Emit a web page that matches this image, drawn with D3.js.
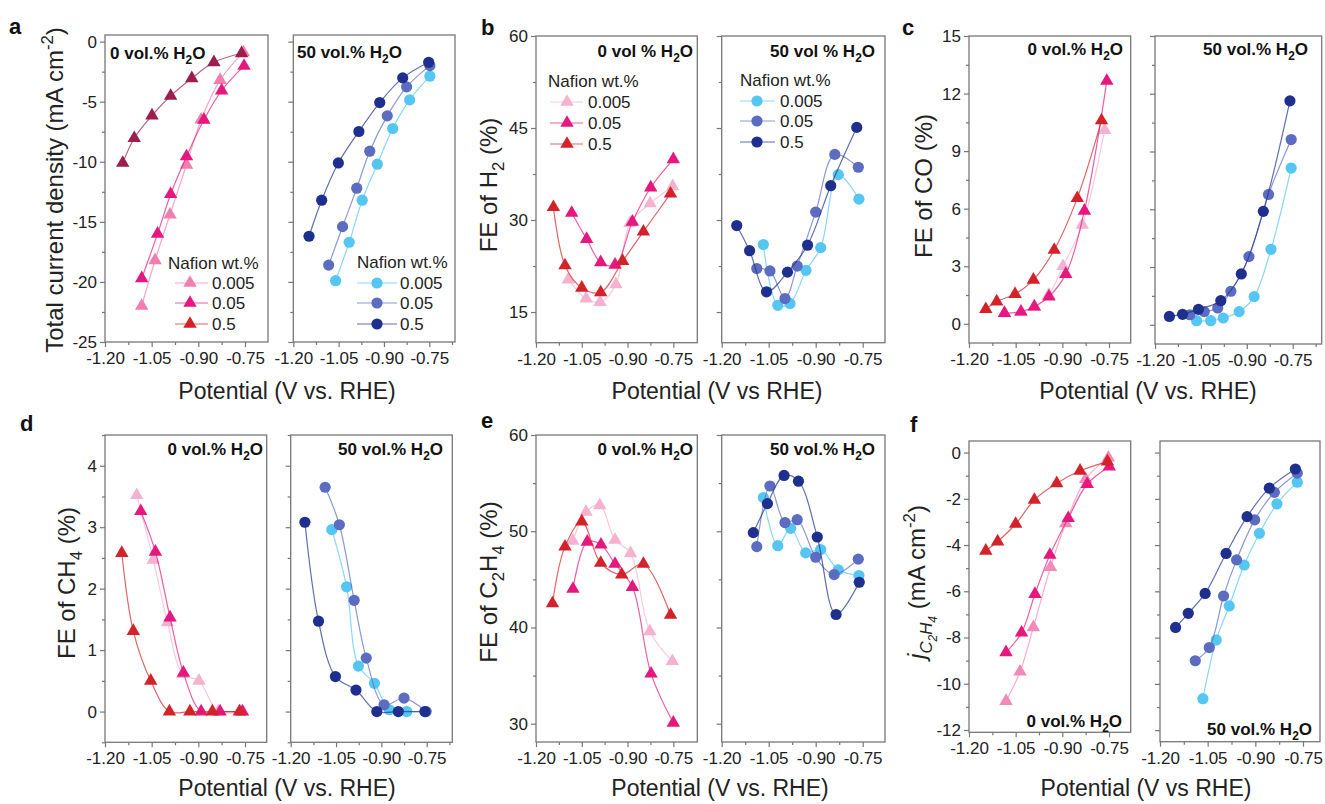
<!DOCTYPE html>
<html>
<head>
<meta charset="utf-8">
<script src="https://cdn.jsdelivr.net/npm/d3@7"></script>
<style>
  body { margin: 0; background: #fff; }
  svg { font-family: "Liberation Sans", Arial, sans-serif; }
</style>
</head>
<body>
<svg id="fig" width="1325" height="804"></svg>
<script>
// =============================
// DATA
// =============================
const nafion = ["0.005", "0.05", "0.5"];
const potTicks = [-1.2, -1.05, -0.9, -0.75];
const potMinor = [-1.125, -0.975, -0.825, -0.675];

// a - total current density (mA cm-2)
const aDryV = [[-1.082, -1.039, -0.991, -0.938, -0.891, -0.830, -0.755],
               [-1.082, -1.031, -0.989, -0.938, -0.882, -0.825, -0.753],
               [-1.143, -1.106, -1.049, -0.989, -0.921, -0.850, -0.761]];
const aDryJ = [[-22.0, -18.2, -14.4, -10.25, -6.5, -3.2, -0.9],
               [-19.7, -16.0, -12.7, -9.56, -6.51, -4.07, -2.02],
               [-10.1, -8.04, -6.15, -4.52, -3.05, -1.72, -0.97]];
const aWetV = [[-1.060, -1.015, -0.972, -0.922, -0.871, -0.815, -0.748],
               [-1.083, -1.037, -0.990, -0.947, -0.889, -0.825, -0.748],
               [-1.148, -1.106, -1.051, -0.983, -0.914, -0.838, -0.752]];
const aWetJ = [[-19.9, -16.7, -13.2, -10.2, -7.23, -4.85, -2.88],
               [-18.6, -15.4, -12.2, -9.12, -6.18, -3.77, -2.0],
               [-16.2, -13.2, -10.1, -7.48, -5.07, -3.02, -1.72]];

// b - FE of H2 (%)
const bDryV = [[-1.094, -1.036, -0.990, -0.938, -0.892, -0.826, -0.752],
               [-1.083, -1.034, -0.988, -0.941, -0.884, -0.824, -0.750],
               [-1.143, -1.105, -1.050, -0.988, -0.916, -0.848, -0.759]];
const bDryFE = [[20.3, 17.2, 16.6, 19.5, 29.5, 32.7, 35.5],
                [31.15, 26.9, 23.1, 22.7, 29.7, 35.3, 39.9],
                [32.1, 22.6, 18.95, 18.2, 23.3, 28.1, 34.3]];
const bWetV = [[-1.067, -1.021, -0.982, -0.931, -0.884, -0.828, -0.762],
               [-1.088, -1.046, -0.998, -0.959, -0.900, -0.839, -0.764],
               [-1.152, -1.111, -1.057, -0.990, -0.926, -0.852, -0.769]];
const bWetFE = [[26.0, 16.1, 16.4, 21.8, 25.5, 37.4, 33.4],
                [22.1, 21.7, 17.2, 22.5, 31.3, 40.7, 38.6],
                [29.1, 25.0, 18.3, 21.5, 25.9, 35.6, 45.1]];

// c - FE of CO (%)
const cDryV = [[-1.086, -1.033, -0.990, -0.944, -0.898, -0.836, -0.764],
               [-1.086, -1.033, -0.990, -0.943, -0.889, -0.829, -0.757],
               [-1.146, -1.111, -1.052, -0.993, -0.926, -0.852, -0.774]];
const cDryFE = [[0.55, 0.6, 0.87, 1.5, 3.0, 5.15, 10.1],
                [0.56, 0.63, 0.9, 1.42, 2.59, 5.89, 12.66],
                [0.76, 1.16, 1.55, 2.29, 3.85, 6.55, 10.6]];
const cWetV = [[-1.064, -1.018, -0.977, -0.925, -0.876, -0.821, -0.755],
               [-1.086, -1.039, -0.995, -0.952, -0.893, -0.829, -0.755],
               [-1.153, -1.110, -1.058, -0.985, -0.918, -0.846, -0.759]];
const cWetFE = [[0.21, 0.21, 0.35, 0.68, 1.46, 3.92, 8.14],
                [0.52, 0.68, 0.87, 1.74, 3.54, 6.77, 9.62],
                [0.43, 0.54, 0.8, 1.25, 2.64, 5.89, 11.63]];

// d - FE of CH4 (%)
const dDryV = [[-1.098, -1.045, -0.999, -0.950, -0.898, -0.836, -0.763],
               [-1.085, -1.038, -0.991, -0.948, -0.891, -0.830, -0.758],
               [-1.146, -1.109, -1.053, -0.993, -0.927, -0.855, -0.768]];
const dDryFE = [[3.52, 2.47, 1.45, 0.61, 0.5, 0, 0],
                [3.26, 2.6, 1.53, 0.63, 0, 0, 0],
                [2.58, 1.31, 0.5, 0, 0, 0, 0]];
const dWetV = [[-1.064, -1.015, -0.976, -0.923, -0.874, -0.816, -0.753],
               [-1.086, -1.039, -0.990, -0.950, -0.891, -0.825, -0.752],
               [-1.153, -1.108, -1.052, -0.984, -0.915, -0.844, -0.756]];
const dWetFE = [[2.96, 2.03, 0.74, 0.46, 0.03, 0, 0],
                [3.65, 3.04, 1.81, 0.87, 0.11, 0.22, 0],
                [3.08, 1.47, 0.57, 0.35, 0, 0, 0]];

// e - FE of C2H4 (%)
const eDryV = [[-1.079, -1.036, -0.991, -0.941, -0.890, -0.827, -0.753],
               [-1.079, -1.032, -0.987, -0.941, -0.884, -0.823, -0.750],
               [-1.146, -1.105, -1.050, -0.988, -0.919, -0.848, -0.759]];
const eDryFE = [[49.0, 52.0, 52.7, 49.1, 47.7, 39.6, 36.5],
                [44.0, 48.9, 48.6, 46.6, 44.2, 35.2, 30.1],
                [42.5, 48.4, 51.0, 46.7, 45.5, 46.6, 41.3]];
const eWetV = [[-1.067, -1.021, -0.980, -0.932, -0.884, -0.828, -0.762],
               [-1.088, -1.046, -0.998, -0.959, -0.900, -0.841, -0.764],
               [-1.099, -1.054, -1.001, -0.955, -0.895, -0.835, -0.761]];
const eWetFE = [[53.5, 48.5, 50.3, 47.75, 48.1, 46.0, 45.4],
                [48.4, 54.7, 50.9, 51.2, 47.3, 45.5, 47.1],
                [49.86, 52.87, 55.8, 55.2, 49.4, 41.35, 44.7]];

// f - partial current density of C2H4 (mA cm-2)
const fDryV = [[-1.081, -1.036, -0.993, -0.938, -0.889, -0.825, -0.752],
               [-1.081, -1.031, -0.988, -0.940, -0.881, -0.820, -0.749],
               [-1.146, -1.108, -1.050, -0.990, -0.918, -0.843, -0.755]];
const fDryJ = [[-10.75, -9.48, -7.56, -4.96, -3.06, -1.15, -0.22],
               [-8.64, -7.79, -6.12, -4.43, -2.84, -1.36, -0.61],
               [-4.25, -3.85, -3.09, -2.05, -1.33, -0.79, -0.39]];
const fWetV = [[-1.065, -1.023, -0.982, -0.935, -0.887, -0.832, -0.768],
               [-1.089, -1.045, -1.000, -0.959, -0.902, -0.840, -0.768],
               [-1.151, -1.111, -1.058, -0.992, -0.926, -0.856, -0.774]];
const fWetJ = [[-10.64, -8.1, -6.63, -4.86, -3.49, -2.22, -1.28],
               [-9.0, -8.43, -6.2, -4.64, -2.91, -1.72, -0.89],
               [-7.56, -6.95, -6.09, -4.36, -2.77, -1.54, -0.71]];

// =============================
// STYLE
// =============================
const frameCol = "#777";
const colDryA = ["#f07fb0", "#e4187f", "#9c1d4e"];
const colDry = ["#f5b2ce", "#e4187f", "#d2232a"];
const colDryF = ["#f08ab8", "#e4187f", "#d2232a"];
const colWet = ["#55c6f1", "#5b6cc1", "#1f2f8e"];
const legColA = ["#f07fb0", "#e4187f", "#d2232a"];

const svg = d3.select("#fig");

// text with sub/superscripts, parts = [[text, level, italic]]
function richText(t, parts, size) {
  const lvl = {
    n: { s: 1, d: 0 },
    sub: { s: 0.7, d: 0.3 },
    subsub: { s: 0.5, d: 0.5 },
    sup: { s: 0.7, d: -0.4 }
  };
  let shift = 0;
  parts.forEach(([s, k, it]) => {
    const target = lvl[k].d * size;
    t.append("tspan")
      .attr("dy", target - shift)
      .attr("font-size", size * lvl[k].s)
      .attr("font-style", it ? "italic" : null)
      .text(s);
    shift = target;
  });
  return t;
}

// =============================
// PANELS
// box = [left, x(-0.75), right, top, bottom]
// =============================
const panels = [
  { box: [105, 245, 268, 35, 342], yDom: [-25, 0.55], yTicks: [0, -5, -10, -15, -20, -25], yMinor: 2.5,
    labels: true, v: aDryV, y: aDryJ, colors: colDryA, mark: "tri",
    note: { x: 110, y: 59, anchor: "start", pre: "0 vol.% H" },
    legend: { tx: 168, ty: 269, rows: [283, 303, 324], l1: 175, l2: 208, mx: 190, textX: 212, colors: legColA } },
  { box: [293.3, 429.3, 455, 35, 342], yDom: [-25, 0.55], yTicks: [0, -5, -10, -15, -20, -25], yMinor: 2.5,
    labels: false, v: aWetV, y: aWetJ, colors: colWet, mark: "dot",
    note: { x: 297, y: 58, anchor: "start", pre: "50 vol.% H" },
    legend: { tx: 357, ty: 268, rows: [283, 303, 324], l1: 357, l2: 397, mx: 377, textX: 400, colors: colWet } },
  { box: [536, 673.3, 697.3, 36, 342.7], yDom: [10, 60], yTicks: [15, 30, 45, 60], yMinor: 7.5,
    labels: true, v: bDryV, y: bDryFE, colors: colDry, mark: "tri",
    note: { x: 693, y: 57, anchor: "end", pre: "0 vol % H" },
    legend: { tx: 548, ty: 87, rows: [102, 123, 144], l1: 550, l2: 583, mx: 567, textX: 588, colors: colDry } },
  { box: [721.7, 862.7, 885, 36, 342.7], yDom: [10, 60], yTicks: [15, 30, 45, 60], yMinor: 7.5,
    labels: false, v: bWetV, y: bWetFE, colors: colWet, mark: "dot",
    note: { x: 875, y: 57, anchor: "end", pre: "50 vol % H" },
    legend: { tx: 740, ty: 86, rows: [101, 121, 142], l1: 740, l2: 775, mx: 757, textX: 780, colors: colWet } },
  { box: [969, 1109, 1130.7, 36, 343], yDom: [-1, 15], yTicks: [0, 3, 6, 9, 12, 15], yMinor: 1.5,
    labels: true, v: cDryV, y: cDryFE, colors: colDry, mark: "tri",
    note: { x: 1123, y: 55, anchor: "end", pre: "0 vol.% H" } },
  { box: [1155, 1292.7, 1321.7, 36, 344], yDom: [-1, 15], yTicks: [0, 3, 6, 9, 12, 15], yMinor: 1.5,
    labels: false, v: cWetV, y: cWetFE, colors: colWet, mark: "dot",
    note: { x: 1308, y: 55, anchor: "end", pre: "50 vol.% H" } },
  { box: [105, 245, 266.7, 435, 742.3], yDom: [-0.5, 4.5], yTicks: [0, 1, 2, 3, 4], yMinor: 0.5,
    labels: true, v: dDryV, y: dDryFE, colors: colDry, mark: "tri",
    note: { x: 263, y: 455, anchor: "end", pre: "0 vol.% H" } },
  { box: [290.7, 426.7, 452.3, 435, 742.3], yDom: [-0.5, 4.5], yTicks: [0, 1, 2, 3, 4], yMinor: 0.5,
    labels: false, v: dWetV, y: dWetFE, colors: colWet, mark: "dot",
    note: { x: 443, y: 455, anchor: "end", pre: "50 vol.% H" } },
  { box: [536, 673.3, 697.3, 435, 742], yDom: [28.1, 60], yTicks: [30, 40, 50, 60], yMinor: 5,
    labels: true, v: eDryV, y: eDryFE, colors: colDry, mark: "tri",
    note: { x: 693, y: 455, anchor: "end", pre: "0 vol.% H" } },
  { box: [721.7, 862.7, 885, 435, 742], yDom: [28.1, 60], yTicks: [30, 40, 50, 60], yMinor: 5,
    labels: false, v: eWetV, y: eWetFE, colors: colWet, mark: "dot",
    note: { x: 875, y: 455, anchor: "end", pre: "50 vol.% H" } },
  { box: [969, 1109, 1130.7, 441, 732.3], yDom: [-12.1, 0.5], yTicks: [0, -2, -4, -6, -8, -10, -12], yMinor: 1,
    labels: true, v: fDryV, y: fDryJ, colors: colDryF, mark: "tri",
    note: { x: 1122, y: 727, anchor: "end", pre: "0 vol.% H" } },
  { box: [1160, 1303, 1320, 441, 741.7], yDom: [-12.5, 0.5], yTicks: [0, -2, -4, -6, -8, -10, -12], yMinor: 1,
    labels: false, v: fWetV, y: fWetJ, colors: colWet, mark: "dot",
    note: { x: 1312, y: 735, anchor: "end", pre: "50 vol.% H" } }
];

function styleAxis(ax) {
  ax.attr("font-size", 17).attr("font-family", null);
  ax.select(".domain").remove();
  ax.selectAll("line").attr("stroke", frameCol).attr("stroke-width", 1.2);
  ax.selectAll("text").attr("fill", "#222");
}

function drawMarkers(g, pts, x, y, mark, color) {
  if (mark === "tri") {
    g.selectAll(null).data(pts).join("path")
      .attr("d", d3.symbol(d3.symbolTriangle, 78))
      .attr("transform", d => `translate(${x(d[0])},${y(d[1])})`)
      .attr("fill", color);
  } else {
    g.selectAll(null).data(pts).join("circle")
      .attr("cx", d => x(d[0])).attr("cy", d => y(d[1]))
      .attr("r", 5.6).attr("fill", color);
  }
}

function drawPanel(p) {
  const [left, p075, right, top, bottom] = p.box;
  const x = d3.scaleLinear().domain([-1.2, -0.75]).range([left, p075]);
  const y = d3.scaleLinear().domain(p.yDom).range([bottom, top]);
  const g = svg.append("g");

  // x ticks
  g.append("g").attr("transform", `translate(0,${bottom})`)
    .call(d3.axisBottom(x).tickValues(potMinor.filter(v => x(v) < right - 2)).tickSize(3).tickFormat(""))
    .call(styleAxis);
  g.append("g").attr("transform", `translate(0,${bottom})`)
    .call(d3.axisBottom(x).tickValues(potTicks).tickSize(5).tickPadding(5).tickFormat(d => d.toFixed(2)))
    .call(styleAxis);

  // y ticks
  const minor = d3.range(Math.ceil(p.yDom[0] / p.yMinor) * p.yMinor, p.yDom[1] + 1e-9, p.yMinor)
    .filter(v => !p.yTicks.some(t => Math.abs(t - v) < 1e-9));
  g.append("g").attr("transform", `translate(${left},0)`)
    .call(d3.axisLeft(y).tickValues(minor).tickSize(3).tickFormat(""))
    .call(styleAxis);
  g.append("g").attr("transform", `translate(${left},0)`)
    .call(d3.axisLeft(y).tickValues(p.yTicks).tickSize(5).tickPadding(3)
      .tickFormat(p.labels ? d => String(d) : ""))
    .call(styleAxis);

  // frame
  g.append("rect")
    .attr("x", left).attr("y", top)
    .attr("width", right - left).attr("height", bottom - top)
    .attr("fill", "none").attr("stroke", frameCol).attr("stroke-width", 1.3);

  // series
  const line = d3.line().x(d => x(d[0])).y(d => y(d[1])).curve(d3.curveCatmullRom.alpha(0.5));
  p.v.forEach((vs, i) => {
    const pts = vs.map((v, j) => [v, p.y[i][j]]);
    g.append("path").datum(pts)
      .attr("d", line)
      .attr("fill", "none")
      .attr("stroke", p.colors[i])
      .attr("stroke-opacity", 0.7)
      .attr("stroke-width", 1.2);
    drawMarkers(g, pts, x, y, p.mark, p.colors[i]);
  });

  // condition label
  const t = g.append("text")
    .attr("x", p.note.x).attr("y", p.note.y)
    .attr("text-anchor", p.note.anchor)
    .attr("font-weight", "bold")
    .attr("fill", "#111");
  richText(t, [[p.note.pre, "n"], ["2", "sub"], ["O", "n"]], 17);

  // legend
  if (p.legend) {
    const L = p.legend;
    g.append("text").attr("x", L.tx).attr("y", L.ty)
      .attr("font-size", 17).attr("fill", "#222").text("Nafion wt.%");
    nafion.forEach((n, i) => {
      const ry = L.rows[i];
      g.append("line").attr("x1", L.l1).attr("x2", L.l2).attr("y1", ry).attr("y2", ry)
        .attr("stroke", L.colors[i]).attr("stroke-opacity", 0.7).attr("stroke-width", 1.2);
      drawMarkers(g, [[0, 0]], () => L.mx, () => ry, p.mark, L.colors[i]);
      g.append("text").attr("x", L.textX).attr("y", ry + 6)
        .attr("font-size", 17).attr("fill", "#222").text(n);
    });
  }
}

panels.forEach(drawPanel);

// =============================
// AXIS TITLES + LETTERS
// =============================
const xTitles = [
  { x: 287, y: 399, s: "Potential (V vs. RHE)" },
  { x: 717, y: 399, s: "Potential (V vs RHE)" },
  { x: 1148, y: 399, s: "Potential (V vs. RHE)" },
  { x: 287, y: 796, s: "Potential (V vs. RHE)" },
  { x: 720, y: 796, s: "Potential (V vs. RHE)" },
  { x: 1146, y: 796, s: "Potential (V vs RHE)" }
];
xTitles.forEach(d => {
  svg.append("text").attr("x", d.x).attr("y", d.y)
    .attr("text-anchor", "middle").attr("font-size", 23).attr("fill", "#222").text(d.s);
});

const yTitles = [
  { x: 63, y: 190, parts: [["Total current density (mA cm", "n"], ["-2", "sup"], [")", "n"]] },
  { x: 497, y: 185, parts: [["FE of H", "n"], ["2", "sub"], [" (%)", "n"]] },
  { x: 932, y: 186, parts: [["FE of CO (%)", "n"]] },
  { x: 75, y: 583, parts: [["FE of CH", "n"], ["4", "sub"], [" (%)", "n"]] },
  { x: 497, y: 582, parts: [["FE of C", "n"], ["2", "sub"], ["H", "n"], ["4", "sub"], [" (%)", "n"]] },
  { x: 925, y: 582, parts: [["j", "n", true], ["C", "sub", true], ["2", "subsub", true], ["H", "sub", true],
                            ["4", "subsub", true], [" (mA cm", "n"], ["-2", "sup"], [")", "n"]] }
];
yTitles.forEach(d => {
  const t = svg.append("text")
    .attr("transform", `translate(${d.x},${d.y}) rotate(-90)`)
    .attr("text-anchor", "middle").attr("fill", "#222");
  richText(t, d.parts, 24);
});

const letters = [
  { s: "a", x: 9, y: 34 }, { s: "b", x: 481, y: 35 }, { s: "c", x: 902, y: 35 },
  { s: "d", x: 20, y: 431 }, { s: "e", x: 481, y: 428 }, { s: "f", x: 910, y: 432 }
];
letters.forEach(d => {
  svg.append("text").attr("x", d.x).attr("y", d.y)
    .attr("font-size", 22).attr("font-weight", "bold").attr("fill", "#111").text(d.s);
});
</script>
</body>
</html>
